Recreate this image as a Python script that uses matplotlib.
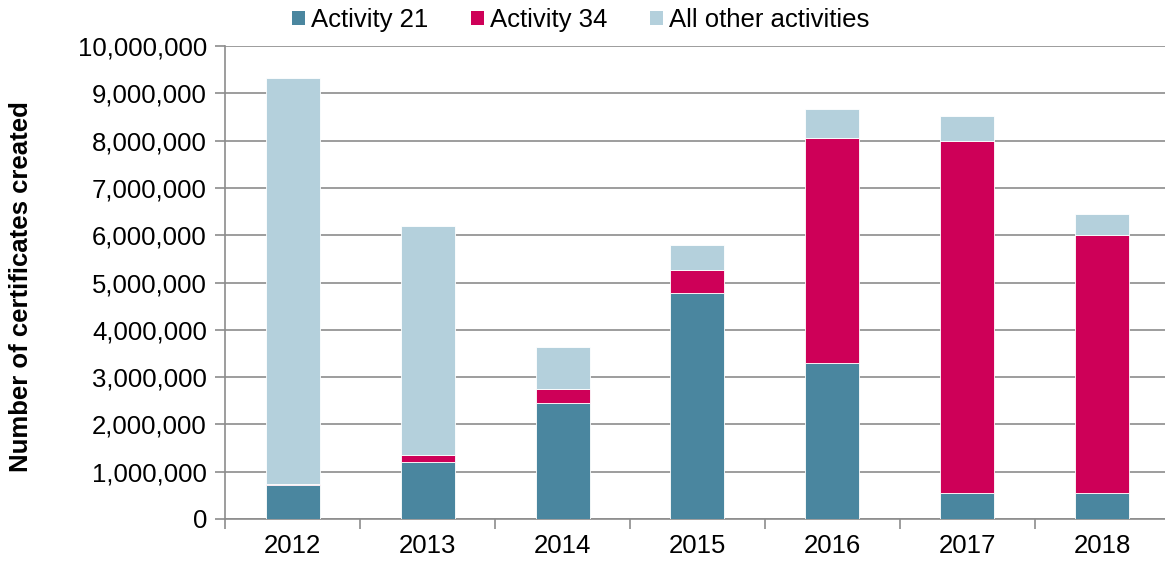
import matplotlib
matplotlib.use("Agg")
import matplotlib.pyplot as plt
import numpy as np
from matplotlib.patches import Patch
from matplotlib.ticker import FuncFormatter, FixedLocator

plt.rcParams['font.family'] = ['Liberation Sans', 'DejaVu Sans']

years = ["2012", "2013", "2014", "2015", "2016", "2017", "2018"]
activity_21 = [725000, 1200000, 2460000, 4770000, 3300000, 550000, 555000]
activity_34 = [12000, 145000, 290000, 490000, 4760000, 7450000, 5445000]
other = [8595000, 4855000, 880000, 530000, 610000, 530000, 450000]
series_names = ["Activity 21", "Activity 34", "All other activities"]
colors = ["#4A869F", "#CE0058", "#B4D0DC"]

fig = plt.figure(figsize=(11.65, 5.64), dpi=100)
ax = fig.add_axes([225 / 1165, 45 / 564, 945 / 1165, 473 / 564])

x = np.arange(len(years))
bottom = np.zeros(len(years))
for vals, col in zip([activity_21, activity_34, other], colors):
    ax.bar(x, vals, width=0.4, bottom=bottom, color=col,
           edgecolor="white", linewidth=0.6, zorder=3)
    bottom += np.array(vals)

ax.set_xlim(-0.5, len(years) - 0.5)
ax.set_ylim(0, 10000000)
ax.set_yticks(np.arange(0, 10000001, 1000000))
ax.yaxis.set_major_formatter(FuncFormatter(lambda v, p: f"{int(v):,}"))
ax.grid(axis="y", color="#8c8c8c", linewidth=1.2, zorder=0)

ax.set_xticks(x)
ax.set_xticklabels(years)
ax.xaxis.set_minor_locator(FixedLocator(np.arange(-0.5, len(years), 1)))
ax.tick_params(axis="x", which="major", length=0, labelsize=18.5, pad=11)
ax.tick_params(axis="x", which="minor", length=7, color="#8c8c8c", width=1.2)
ax.tick_params(axis="y", length=7, color="#8c8c8c", width=1.2, labelsize=18.5, pad=6)

for s in ["top", "right"]:
    ax.spines[s].set_visible(False)
for s in ["left", "bottom"]:
    ax.spines[s].set_color("#8c8c8c")
    ax.spines[s].set_linewidth(1.2)

fig.text(21 / 1165, 1 - 287 / 564, "Number of certificates created",
         rotation=90, ha="center", va="center", fontsize=18.5, fontweight="bold")

handles = [Patch(facecolor=c, edgecolor="none") for c in colors]
fig.legend(handles, series_names, loc="center", bbox_to_anchor=(581 / 1165, 1 - 20 / 564),
           ncol=3, frameon=False, fontsize=18.5, handlelength=0.5, handleheight=0.5,
           handletextpad=0.25, columnspacing=1.65)

fig.savefig("out.png", dpi=100)
